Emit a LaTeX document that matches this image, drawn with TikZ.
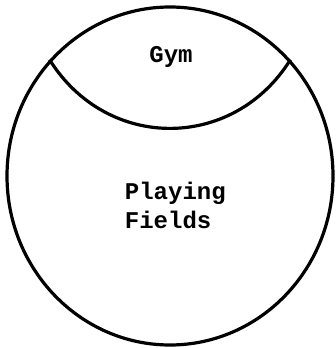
\documentclass[tikz,border=0pt]{standalone}
\usepackage{fontspec}
\setmonofont{Liberation Mono}
\usetikzlibrary{shapes.geometric}

\begin{document}
\begin{tikzpicture}[x=1pt,y=1pt,line width=3.2pt]
\tikzset{label/.style={font=\ttfamily\bfseries\fontsize{24}{29}\selectfont}}
\useasboundingbox (0,0) rectangle (335,348);

\node[draw,ellipse,inner sep=0pt,minimum width=326pt,minimum height=338pt] (F) at (170,172) {};

\draw (F.136.75) to[bend right=58,looseness=1.15] (F.44.5);

\node[label] (G) at (171,291) {Gym};
\node[label,align=left,anchor=west] (P) at (120,143) {Playing\\Fields};
\end{tikzpicture}
\end{document}
